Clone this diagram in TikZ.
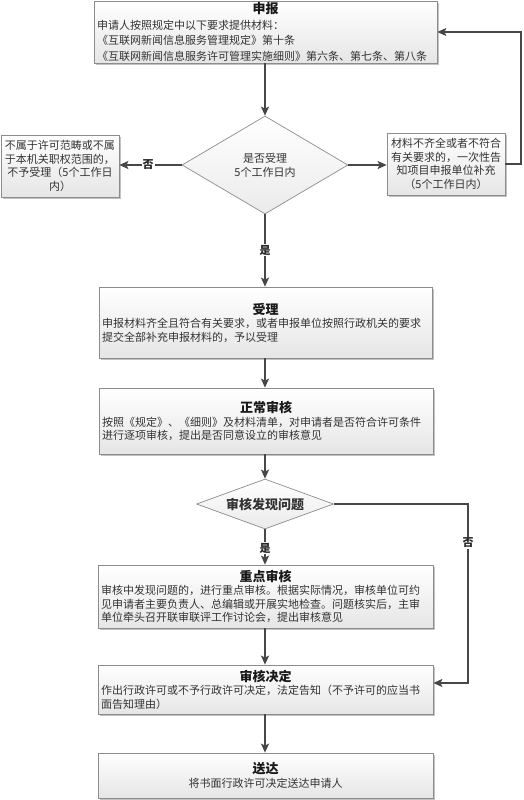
\documentclass[tikz,border=0pt]{standalone}
\usepackage{fontspec}
\setmainfont{Noto Sans CJK SC}
\usetikzlibrary{shapes.geometric,arrows.meta,shadows}
\begin{document}
\begin{tikzpicture}[x=1pt,y=-1pt,
  box/.style={rectangle, draw=black!45, line width=0.7pt, top color=white, bottom color=black!10,
    inner ysep=0pt, inner xsep=3pt, align=left,
    drop shadow={shadow xshift=2pt, shadow yshift=-2pt, fill=black!40, opacity=0.6},
    font=\fontsize{11}{13.5}\selectfont, text=black!80},
  sidebox/.style={box, align=center},
  dia/.style={diamond, draw=black!45, line width=0.7pt, top color=white, bottom color=black!8,
    inner sep=0pt, align=center, text=black!80},
  conn/.style={draw=black!72, line width=1.8pt, -{Stealth[length=9pt,width=8pt,inset=2pt]}},
  lbl/.style={fill=white, inner sep=1pt, font=\fontsize{11}{13}\selectfont\bfseries, text=black!85}]
\useasboundingbox (0,0) rectangle (524,800);

\newcommand{\bt}[1]{\makebox[\linewidth]{\fontsize{13}{15}\selectfont\bfseries\color{black!90}#1}}

\node[box, minimum width=343, minimum height=62, text width=337, font=\fontsize{11}{15.5}\selectfont] (sb) at (265.5,32)
  {\bt{申报}\\申请人按照规定中以下要求提供材料：\\《互联网新闻信息服务管理规定》第十条\\《互联网新闻信息服务许可管理实施细则》第六条、第七条、第八条};

\node[dia, shape aspect=1.7, minimum width=166, minimum height=98, font=\fontsize{11}{14}\selectfont] (d1) at (265,165)
  {是否受理\\5个工作日内};

\node[sidebox, minimum width=118, minimum height=62, text width=112] (lb) at (60,166)
  {不属于许可范畴或不属\\于本机关职权范围的，\\不予受理（5个工作日\\内）};

\node[sidebox, minimum width=118, minimum height=62, text width=112] (rb) at (446,164)
  {材料不齐全或者不符合\\有关要求的，一次性告\\知项目申报单位补充\\（5个工作日内）};

\node[box, minimum width=333, minimum height=71, text width=327] (sl) at (265.5,322.5)
  {\bt{受理}\\申报材料齐全且符合有关要求，或者申报单位按照行政机关的要求\\提交全部补充申报材料的，予以受理};

\node[box, minimum width=334, minimum height=66, text width=328] (zc) at (266,421)
  {\bt{正常审核}\\按照《规定》、《细则》及材料清单，对申请者是否符合许可条件\\进行逐项审核，提出是否同意设立的审核意见};

\node[dia, shape aspect=2.74, minimum width=137, minimum height=50, font=\fontsize{13}{15}\selectfont\bfseries] (d2) at (265,504)
  {审核发现问题};

\node[box, minimum width=335, minimum height=63, text width=329] (zd) at (265.5,596.5)
  {\bt{重点审核}\\审核中发现问题的，进行重点审核。根据实际情况，审核单位可约\\见申请者主要负责人、总编辑或开展实地检查。问题核实后，主审\\单位牵头召开联审联评工作讨论会，提出审核意见};

\node[box, minimum width=335, minimum height=49, text width=329] (jd) at (265.5,689.5)
  {\bt{审核决定}\\作出行政许可或不予行政许可决定，法定告知（不予许可的应当书\\面告知理由）};

\node[box, minimum width=335, minimum height=45, text width=329, align=center] (shd) at (265.5,775.5)
  {\bt{送达}\\将书面行政许可决定送达申请人};

\coordinate (r1) at (521,164);
\coordinate (n2) at (468,683);

\draw[conn] (sb.south -| d1.north) -- (d1.north);
\draw[conn] (d1.west) -- (d1.west -| lb.east);
\draw[conn] (d1.east) -- (d1.east -| rb.west);
\draw[conn] (rb.east) -- (r1) |- (sb.east);
\draw[conn] (d1.south) -- (sl.north -| d1.south);
\draw[conn] (sl.south -| d1.south) -- (zc.north -| d1.south);
\draw[conn] (zc.south -| d2.north) -- (d2.north);
\draw[conn] (d2.south) -- (zd.north -| d2.south);
\draw[conn] (d2.east) -| (n2) -- (n2 -| jd.east);
\draw[conn] (zd.south -| d2.south) -- (jd.north -| d2.south);
\draw[conn] (jd.south -| d2.south) -- (shd.north -| d2.south);

\node[lbl] (no1) at (148,165) {否};
\node[lbl] (yes1) at (265,250) {是};
\node[lbl] (yes2) at (265,548) {是};
\node[lbl] (no2) at (468,543) {否};
\end{tikzpicture}
\end{document}
